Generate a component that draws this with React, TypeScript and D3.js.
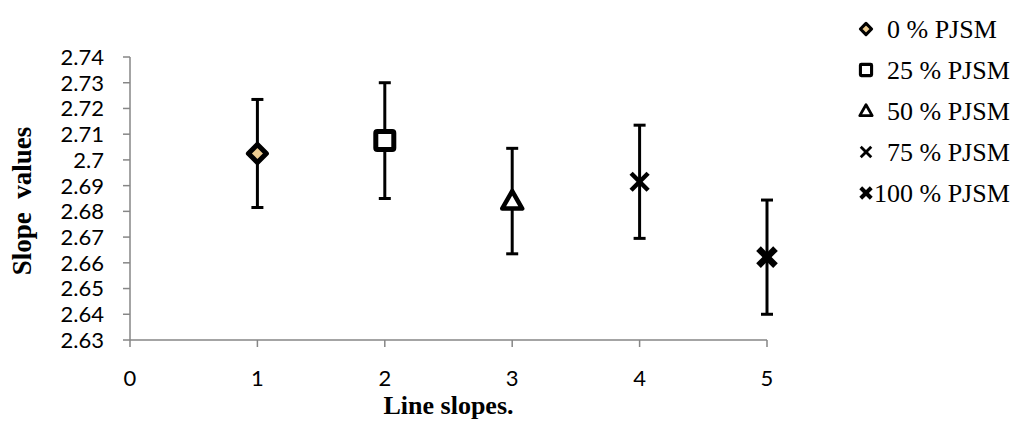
import React from "react";
import * as d3 from "d3";

const series = ["0 % PJSM", "25 % PJSM", "50 % PJSM", "75 % PJSM", "100 % PJSM"];
const xValues = [1, 2, 3, 4, 5];
const yValues = [2.7025, 2.7075, 2.684, 2.6915, 2.6622];
const errValues = [0.021, 0.0225, 0.0205, 0.022, 0.0222];
const markerKinds = ["diamond", "square", "triangle", "x", "xbold"];
const yTicks = [2.63, 2.64, 2.65, 2.66, 2.67, 2.68, 2.69, 2.7, 2.71, 2.72, 2.73, 2.74];
const xTicks = [0, 1, 2, 3, 4, 5];

const W = 1022;
const H = 423;
const margin = { left: 130, top: 57, right: 255, bottom: 83 };

function Marker({ kind, s }: { kind: string; s: number }) {
  // s = scale factor, 1 for the plot, smaller in the legend
  if (kind === "diamond") {
    const r = 9 * s;
    return <path d={`M0,${-r}L${r},0L0,${r}L${-r},0Z`} fill="#eccb90" stroke="#000" strokeWidth={5 * s} strokeLinejoin="round" />;
  }
  if (kind === "square") {
    const h = 9 * s;
    return <rect x={-h} y={-h} width={2 * h} height={2 * h} rx={1.5 * s} fill="#fff" stroke="#000" strokeWidth={5 * s} />;
  }
  if (kind === "triangle") {
    const r = 10 * s;
    return <path d={`M0,${-r}L${r},${r * 0.75}L${-r},${r * 0.75}Z`} fill="#fff" stroke="#000" strokeWidth={4.5 * s} strokeLinejoin="round" />;
  }
  const r = 8.5 * s;
  const sw = (kind === "x" ? 4.5 : 6.5) * s;
  return (
    <g stroke="#000" strokeWidth={sw}>
      <line x1={-r} y1={-r} x2={r} y2={r} />
      <line x1={-r} y1={r} x2={r} y2={-r} />
    </g>
  );
}

export default function App() {
  const x = d3.scaleLinear().domain([0, 5]).range([margin.left, 767]);
  const y = d3.scaleLinear().domain([2.63, 2.74]).range([H - margin.bottom, margin.top]);
  const axisColor = "#868686";
  const tickFont = "Lato, 'Open Sans', sans-serif";
  const serif = "'Liberation Serif', 'DejaVu Serif', serif";

  return (
    <svg width={W} height={H} style={{ position: "absolute", left: 0, top: 0, background: "#fff" }}>
      {/* y axis */}
      <line x1={x(0)} x2={x(0)} y1={y(2.74)} y2={y(2.63)} stroke={axisColor} strokeWidth={1.5} />
      {yTicks.map((t) => (
        <g key={t}>
          <line x1={x(0) - 7} x2={x(0)} y1={y(t)} y2={y(t)} stroke={axisColor} strokeWidth={1.5} />
          <text x={x(0) - 26} y={y(t)} dy="0.36em" textAnchor="end" fontFamily={tickFont} fontSize={22} fill="#000">
            {d3.format("")(+t.toFixed(2))}
          </text>
        </g>
      ))}
      {/* x axis */}
      <line x1={x(0)} x2={x(5)} y1={y(2.63)} y2={y(2.63)} stroke={axisColor} strokeWidth={1.5} />
      {xTicks.map((t) => (
        <g key={t}>
          <line x1={x(t)} x2={x(t)} y1={y(2.63)} y2={y(2.63) + 7} stroke={axisColor} strokeWidth={1.5} />
          <text x={x(t)} y={y(2.63) + 46} textAnchor="middle" fontFamily={tickFont} fontSize={22} fill="#000">
            {t}
          </text>
        </g>
      ))}
      {/* error bars and markers */}
      {xValues.map((xv, i) => {
        const cx = x(xv);
        const top = y(yValues[i] + errValues[i]);
        const bot = y(yValues[i] - errValues[i]);
        return (
          <g key={i}>
            <line x1={cx} x2={cx} y1={top} y2={bot} stroke="#000" strokeWidth={3} />
            <line x1={cx - 6} x2={cx + 6} y1={top} y2={top} stroke="#000" strokeWidth={3} />
            <line x1={cx - 6} x2={cx + 6} y1={bot} y2={bot} stroke="#000" strokeWidth={3} />
            <g transform={`translate(${cx},${y(yValues[i])})`}>
              <Marker kind={markerKinds[i]} s={1} />
            </g>
          </g>
        );
      })}
      {/* axis titles */}
      <text
        transform={`translate(31,201) rotate(-90)`}
        textAnchor="middle"
        fontFamily={serif}
        fontWeight="bold"
        fontSize={27}
        style={{ whiteSpace: "pre" }}
      >
        {"Slope  values"}
      </text>
      <text x={(x(0) + x(5)) / 2} y={414} textAnchor="middle" fontFamily={serif} fontWeight="bold" fontSize={26}>
        Line slopes.
      </text>
      {/* legend */}
      {series.map((name, i) => (
        <g key={name} transform={`translate(866,${29 + i * 41})`}>
          <Marker kind={markerKinds[i]} s={0.62} />
          <text x={i === 4 ? 8 : 21} y={0} dy="0.35em" fontFamily={serif} fontSize={26}>
            {name}
          </text>
        </g>
      ))}
    </svg>
  );
}
